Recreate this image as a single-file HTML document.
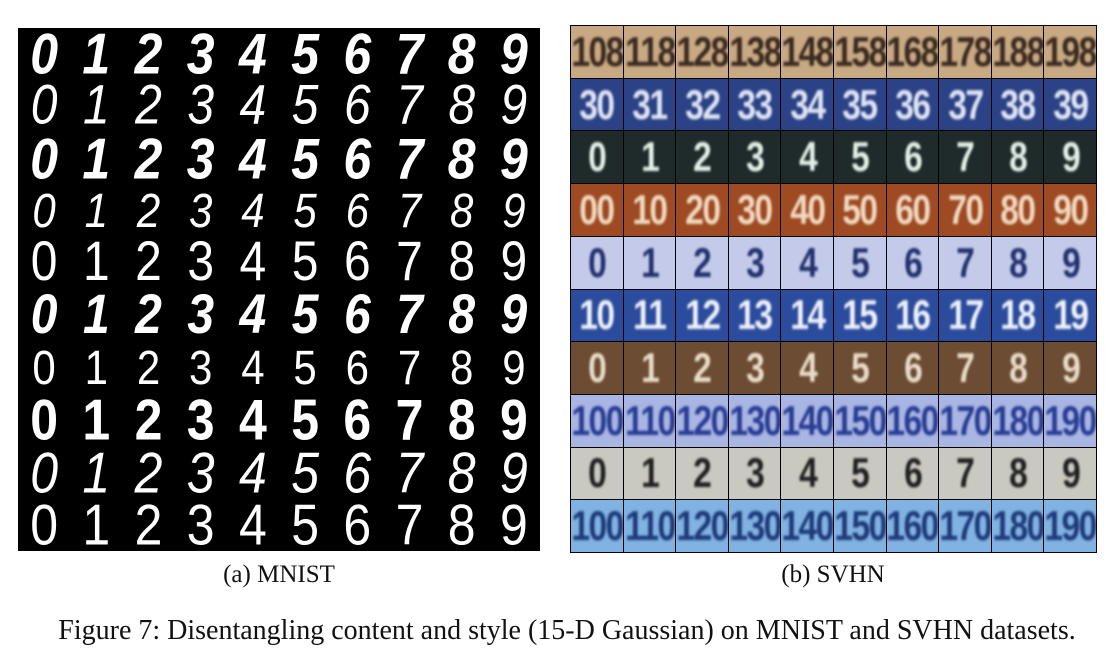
<!DOCTYPE html>
<html><head><meta charset="utf-8"><style>
body{margin:0;width:1114px;height:661px;background:#fff;position:relative;overflow:hidden;font-family:"Liberation Serif",serif}
#mnist{position:absolute;left:18px;top:28px;width:522px;height:523px;background:#000;display:grid;grid-template-columns:repeat(10,1fr);grid-template-rows:repeat(10,1fr)}
#mnist div{color:#fff;display:flex;align-items:center;justify-content:center;font-family:"Liberation Sans",sans-serif;line-height:1}
#mnist div span{display:inline-block;transform:scaleY(1.15)}
#svhn{position:absolute;left:570px;top:25px;width:527px;height:528px;background:#000;display:grid;grid-template-columns:repeat(10,1fr);grid-template-rows:repeat(10,1fr);gap:1px;border:1px solid #000;box-sizing:border-box}
#svhn div{display:flex;align-items:center;justify-content:center;overflow:hidden;font-family:"Liberation Sans",sans-serif;font-weight:bold;font-size:42px;white-space:nowrap}
#svhn div span{display:inline-block;transform:scaleX(0.8);letter-spacing:-2px;filter:blur(1.3px)}
.cap{position:absolute;color:#111;text-align:center}
</style></head><body>
<div id="mnist"></div>
<div id="svhn"></div>
<div class="cap" style="left:129px;width:300px;top:561px;font-size:25px">(a) MNIST</div>
<div class="cap" style="left:683px;width:300px;top:561px;font-size:25px">(b) SVHN</div>
<div class="cap" style="left:0;width:1114px;top:615px;font-size:28px;padding-left:20px;box-sizing:border-box">Figure 7: Disentangling content and style (15-D Gaussian) on MNIST and SVHN datasets.</div>
<script>
const mStyles=[
 {w:'bold',s:'italic',f:50},{w:'normal',s:'italic',f:48},{w:'bold',s:'italic',f:50},{w:'normal',s:'italic',f:42},
 {w:'normal',s:'normal',f:48},{w:'bold',s:'italic',f:48},{w:'normal',s:'normal',f:42},{w:'bold',s:'normal',f:50},
 {w:'normal',s:'italic',f:50},{w:'normal',s:'normal',f:50}];
const m=document.getElementById('mnist');
for(let r=0;r<10;r++)for(let c=0;c<10;c++){
 const d=document.createElement('div');
 
 
 const sp=document.createElement('span');sp.textContent=c;d.appendChild(sp);
 const st=mStyles[r];
 d.style.fontWeight=st.w;d.style.fontStyle=st.s;d.style.fontSize=st.f+'px';
 m.appendChild(d);}
const rows=[
 {bg:'#c9a983',fg:'#3a2a20',t:c=>'1'+c+'8'},
 {bg:'#2c4286',fg:'#dfe4f4',t:c=>'3'+c},
 {bg:'#1f2b2b',fg:'#e4efe8',t:c=>''+c},
 {bg:'#9e4a22',fg:'#f0d8c0',t:c=>c+'0'},
 {bg:'#c4cbea',fg:'#22306e',t:c=>''+c},
 {bg:'#2b4c9c',fg:'#eef0fa',t:c=>'1'+c},
 {bg:'#6c4c33',fg:'#e8dcc8',t:c=>''+c},
 {bg:'#a9b5e2',fg:'#283c94',t:c=>'1'+c+'0'},
 {bg:'#c9c9c1',fg:'#202020',t:c=>''+c},
 {bg:'#80b2e2',fg:'#1e3a78',t:c=>'1'+c+'0'}];
const s=document.getElementById('svhn');
for(let r=0;r<10;r++)for(let c=0;c<10;c++){
 const d=document.createElement('div');
 
 
 d.style.background=rows[r].bg;d.style.color=rows[r].fg;
 const sp=document.createElement('span');sp.textContent=rows[r].t(c);d.appendChild(sp);
 s.appendChild(d);}
</script>
</body></html>
